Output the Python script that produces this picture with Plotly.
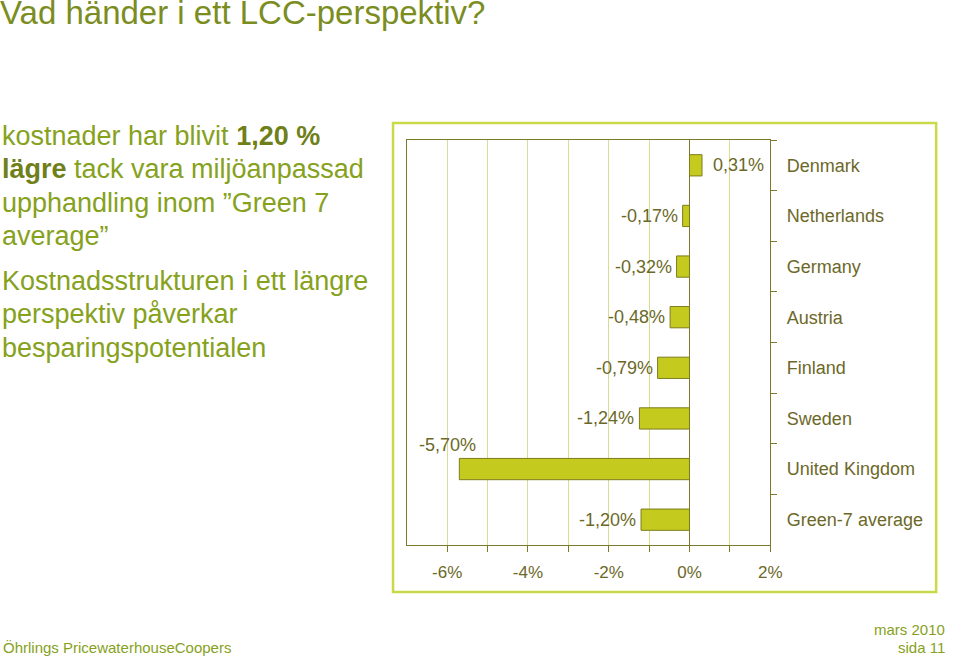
import plotly.graph_objects as go

# ---- data ----
countries = ["Denmark", "Netherlands", "Germany", "Austria", "Finland",
             "Sweden", "United Kingdom", "Green-7 average"]
change_pct = [0.31, -0.17, -0.32, -0.48, -0.79, -1.24, -5.70, -1.20]
x_tick_vals = [-6, -4, -2, 0, 2]
x_tick_text = ["-6%", "-4%", "-2%", "0%", "2%"]

title_text = "Vad händer i ett LCC-perspektiv?"
para1_lines = ["kostnader har blivit <b>1,20 %</b>",
               "<b>lägre</b> tack vara miljöanpassad",
               "upphandling inom \u201dGreen 7",
               "average\u201d"]
para2_lines = ["Kostnadsstrukturen i ett längre",
               "perspektiv påverkar",
               "besparingspotentialen"]
footer_left = "Öhrlings PricewaterhouseCoopers"
footer_right = ["mars 2010", "sida 11"]

W, H = 960, 658
def py(p):  # pixel y -> paper y
    return 1 - p / H
def px(p):
    return p / W

OLIVE = "#6c6828"
AXIS = "#7c7a2a"
GRID = "#d6de96"
BAR = "#c4cb1e"
BAR_LINE = "#7e7c1c"
GREEN = "#86a11c"
GREEN_DARK = "#6f7f1a"
FRAME = "#c9d94a"
FONT = "Liberation Sans, Arial, sans-serif"

# every 1% gets a grid line and tick; only the listed ones get a label
x_min, x_max = -7, 2
label_map = dict(zip(x_tick_vals, x_tick_text))
all_ticks = list(range(x_min + 1, x_max + 1))
all_text = [label_map.get(t, "") for t in all_ticks]

fig = go.Figure()
fig.add_trace(go.Bar(
    x=change_pct, y=countries, orientation="h", width=0.42,
    marker=dict(color=BAR, line=dict(color=BAR_LINE, width=1)),
    hoverinfo="skip", showlegend=False,
))

annotations = []
for c, v in zip(countries, change_pct):
    label = f"{v:.2f}".replace(".", ",") + "%"
    if v >= 0:
        annotations.append(dict(x=v, y=c, xref="x", yref="y", text=label,
                                showarrow=False, xanchor="left", xshift=9,
                                font=dict(size=18, color=OLIVE, family=FONT)))
    elif v - x_min < 1.5:
        annotations.append(dict(x=v, y=c, xref="x", yref="y", text=label,
                                showarrow=False, xanchor="center", xshift=-12,
                                yshift=24,
                                font=dict(size=18, color=OLIVE, family=FONT)))
    else:
        annotations.append(dict(x=v, y=c, xref="x", yref="y", text=label,
                                showarrow=False, xanchor="right", xshift=-3,
                                font=dict(size=18, color=OLIVE, family=FONT)))

# title
annotations.append(dict(x=px(-2), y=py(13), xref="paper", yref="paper",
                        text=title_text, showarrow=False, xanchor="left",
                        yanchor="middle",
                        font=dict(size=33, color="#7b8d1e", family=FONT)))
# left text
for i, line in enumerate(para1_lines):
    annotations.append(dict(x=px(0), y=py(136 + i * 33.4), xref="paper", yref="paper",
                            text=line.replace("<b>", f"<b><span style='color:{GREEN_DARK}'>").replace("</b>", "</span></b>"),
                            showarrow=False, xanchor="left", yanchor="middle",
                            font=dict(size=27, color=GREEN, family=FONT)))
for i, line in enumerate(para2_lines):
    annotations.append(dict(x=px(0), y=py(281 + i * 33.4), xref="paper", yref="paper",
                            text=line, showarrow=False, xanchor="left", yanchor="middle",
                            font=dict(size=27, color=GREEN, family=FONT)))
# footer
annotations.append(dict(x=px(1), y=py(647), xref="paper", yref="paper",
                        text=footer_left, showarrow=False, xanchor="left", yanchor="middle",
                        font=dict(size=15, color=GREEN, family=FONT)))
for i, t in enumerate(footer_right):
    annotations.append(dict(x=px(959), y=py(629 + i * 18), xref="paper", yref="paper",
                            text=t, showarrow=False, xanchor="right", yanchor="middle",
                            font=dict(size=15, color=GREEN, family=FONT)))

fig.update_layout(
    width=W, height=H,
    margin=dict(l=0, r=0, t=0, b=0),
    paper_bgcolor="white", plot_bgcolor="white",
    annotations=annotations,
    shapes=[dict(type="rect", xref="paper", yref="paper",
                 x0=px(398), x1=px(948), y0=py(592), y1=py(123),
                 line=dict(color=FRAME, width=2.5), layer="below")],
    xaxis=dict(
        domain=[px(412), px(780)], range=[x_min, x_max],
        tickmode="array", tickvals=all_ticks, ticktext=all_text,
        ticks="outside", ticklen=6, tickcolor=AXIS, tickwidth=1,
        showgrid=True, gridcolor=GRID, gridwidth=1,
        showline=True, linecolor=AXIS, linewidth=1, mirror=True,
        zeroline=True, zerolinecolor=AXIS, zerolinewidth=1,
        tickfont=dict(size=17, color=OLIVE, family=FONT),
        ticklabelstandoff=6,
        fixedrange=True,
    ),
    yaxis=dict(
        domain=[py(545), py(140)], type="category",
        categoryorder="array", categoryarray=countries,
        range=[len(countries) - 0.5, -0.5],
        side="right", tickson="boundaries",
        ticks="outside", ticklen=6, tickcolor=AXIS,
        showline=True, linecolor=AXIS, linewidth=1, mirror=True,
        showgrid=False,
        tickfont=dict(size=18, color=OLIVE, family=FONT),
        ticklabelstandoff=12,
        fixedrange=True,
    ),
    bargap=0.58,
)

fig.write_html("out.html", config={"displayModeBar": False},
               post_script="document.body.style.margin='0';document.body.style.overflow='hidden';")
